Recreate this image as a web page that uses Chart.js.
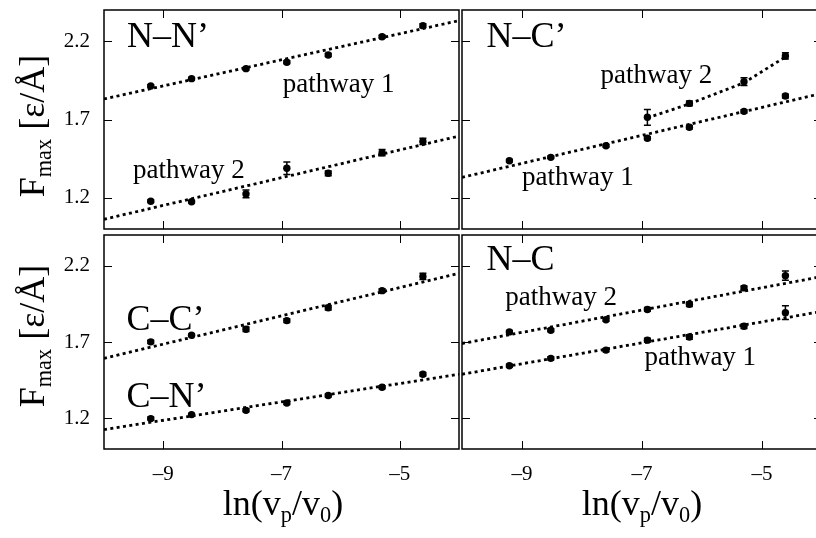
<!DOCTYPE html>
<html>
<head>
<meta charset="utf-8">
<script src="https://cdn.jsdelivr.net/npm/chart.js@4.4.0/dist/chart.umd.min.js"></script>
<style>
html, body { margin: 0; padding: 0; background: #fff; overflow: hidden; }
#wrap { position: relative; width: 816px; height: 538px; overflow: hidden;
        font-family: "Liberation Serif", "DejaVu Serif", serif; color: #000; }
#wrap canvas { position: absolute; left: 0; top: 0; }
.ytitle, .xtitle { position: absolute; width: 240px; height: 40px; line-height: 40px;
        font-size: 36px; text-align: center; white-space: nowrap; }
.ytitle { transform: rotate(-90deg); }
sub { font-size: 62%; line-height: 0; vertical-align: -0.3em; }
</style>
</head>
<body>
<div id="wrap">
  <canvas id="nnPanel" width="830" height="538"></canvas>
  <canvas id="ncPrimePanel" width="830" height="538"></canvas>
  <canvas id="ccPanel" width="830" height="538"></canvas>
  <canvas id="ncPanel" width="830" height="538"></canvas>
  <div class="ytitle" style="left:-88px; top:106px;">F<sub>max</sub> [ε/Å]</div>
  <div class="ytitle" style="left:-88px; top:316px;">F<sub>max</sub> [ε/Å]</div>
  <div class="xtitle" style="left:163px; top:483px;">ln(v<sub>p</sub>/v<sub>0</sub>)</div>
  <div class="xtitle" style="left:522px; top:483px;">ln(v<sub>p</sub>/v<sub>0</sub>)</div>
</div>
<script>
// Pulling speeds, ln(vp/v0)
var xVals = [-9.21, -8.52, -7.60, -6.91, -6.21, -5.30, -4.61];
var xValsShort = [-6.91, -6.21, -5.30, -4.61];
var fitX = [-10, -4];
var xTicks = [-9, -7, -5];
var yTicks = [1.2, 1.7, 2.2];

// N-N'
var nnPath1 = [1.914, 1.961, 2.025, 2.066, 2.112, 2.229, 2.300];
var nnPath1Err = [0.008, 0.008, 0.008, 0.010, 0.010, 0.010, 0.012];
var nnPath1Fit = [1.831, 2.332];
var nnPath2 = [1.177, 1.174, 1.224, 1.388, 1.356, 1.488, 1.560];
var nnPath2Err = [0.008, 0.008, 0.025, 0.040, 0.015, 0.020, 0.020];
var nnPath2Fit = [1.062, 1.594];

// N-C'
var ncpPath1 = [1.436, 1.458, 1.532, 1.580, 1.650, 1.752, 1.850];
var ncpPath1Err = [0.008, 0.008, 0.008, 0.010, 0.010, 0.010, 0.012];
var ncpPath1Fit = [1.330, 1.867];
var ncpPath2 = [1.714, 1.803, 1.942, 2.106];
var ncpPath2Err = [0.050, 0.015, 0.025, 0.020];
var ncpPath2Line = [1.710, 1.800, 1.935, 2.100];

// C-C' and C-N'
var ccPrime = [1.701, 1.744, 1.783, 1.840, 1.924, 2.036, 2.129];
var ccPrimeErr = [0.010, 0.008, 0.015, 0.012, 0.015, 0.012, 0.020];
var ccPrimeFit = [1.593, 2.149];
var cnPrime = [1.199, 1.225, 1.253, 1.301, 1.350, 1.404, 1.489];
var cnPrimeErr = [0.010, 0.008, 0.010, 0.010, 0.010, 0.010, 0.012];
var cnPrimeFit = [1.127, 1.489];

// N-C
var ncPath2 = [1.766, 1.777, 1.846, 1.913, 1.947, 2.054, 2.134];
var ncPath2Err = [0.010, 0.010, 0.010, 0.012, 0.015, 0.012, 0.030];
var ncPath2Fit = [1.690, 2.128];
var ncPath1 = [1.545, 1.593, 1.647, 1.712, 1.733, 1.803, 1.892];
var ncPath1Err = [0.010, 0.010, 0.010, 0.012, 0.015, 0.015, 0.045];
var ncPath1Fit = [1.489, 1.900];

var FONT = '"Liberation Serif", "DejaVu Serif", serif';
var W = 830, H = 538;

function toXY(xs, ys) {
    return xs.map(function (x, i) { return {x: x, y: ys[i]}; });
}

function pointSet(xs, ys, errs) {
    return {data: toXY(xs, ys), errors: errs, showLine: false,
            pointRadius: 3.7, pointBorderWidth: 0,
            pointBackgroundColor: '#000', borderColor: '#000'};
}

function fitSet(xs, ys) {
    return {data: toXY(xs, ys), showLine: true, pointRadius: 0,
            borderColor: '#000', borderWidth: 2.8, borderDash: [3, 3.4],
            borderCapStyle: 'butt', fill: false, tension: 0};
}

/**
 * Draws the box round the plot area with the small inward ticks on all four sides.
 */
var frameTicks = {
    id: 'frameTicks',
    afterDraw: function (chart) {
        var ctx = chart.ctx, a = chart.chartArea;
        var sx = chart.scales.x, sy = chart.scales.y, len = 8;
        ctx.save();
        ctx.strokeStyle = '#000';
        ctx.lineWidth = 1.5;
        ctx.strokeRect(a.left, a.top, a.right - a.left, a.bottom - a.top);
        ctx.lineWidth = 1;
        ctx.beginPath();
        xTicks.forEach(function (t) {
            var px = Math.round(sx.getPixelForValue(t)) + 0.5;
            ctx.moveTo(px, a.bottom); ctx.lineTo(px, a.bottom - len);
            ctx.moveTo(px, a.top); ctx.lineTo(px, a.top + len);
        });
        yTicks.forEach(function (t) {
            var py = Math.round(sy.getPixelForValue(t)) + 0.5;
            ctx.moveTo(a.left, py); ctx.lineTo(a.left + len, py);
            ctx.moveTo(a.right, py); ctx.lineTo(a.right - len, py);
        });
        ctx.stroke();
        ctx.restore();
    }
};

/**
 * Vertical error bars with caps, for datasets that carry an errors array.
 */
var errorBars = {
    id: 'errorBars',
    afterDatasetsDraw: function (chart) {
        var ctx = chart.ctx, sy = chart.scales.y;
        ctx.save();
        ctx.strokeStyle = '#000';
        ctx.lineWidth = 1.5;
        chart.data.datasets.forEach(function (ds, i) {
            if (!ds.errors) return;
            var meta = chart.getDatasetMeta(i);
            meta.data.forEach(function (pt, j) {
                var v = ds.data[j].y, e = ds.errors[j];
                var y1 = sy.getPixelForValue(v + e), y2 = sy.getPixelForValue(v - e);
                ctx.beginPath();
                ctx.moveTo(pt.x, y1); ctx.lineTo(pt.x, y2);
                ctx.moveTo(pt.x - 3.5, y1); ctx.lineTo(pt.x + 3.5, y1);
                ctx.moveTo(pt.x - 3.5, y2); ctx.lineTo(pt.x + 3.5, y2);
                ctx.stroke();
            });
        });
        ctx.restore();
    }
};

/**
 * Panel labels placed at data coordinates.
 */
var panelText = {
    id: 'panelText',
    afterDraw: function (chart, args, opts) {
        var ctx = chart.ctx, sx = chart.scales.x, sy = chart.scales.y;
        ctx.save();
        ctx.fillStyle = '#000';
        ctx.textAlign = 'left';
        ctx.textBaseline = 'alphabetic';
        (opts.items || []).forEach(function (it) {
            ctx.font = it.size + 'px ' + FONT;
            ctx.fillText(it.text, sx.getPixelForValue(it.x), sy.getPixelForValue(it.y));
        });
        ctx.restore();
    }
};

function noPadding(s) {
    s.paddingTop = 0; s.paddingBottom = 0; s.paddingLeft = 0; s.paddingRight = 0;
}

// box = [left, right, top, bottom] of the plot frame, in page pixels
function makePanel(id, box, showX, showY, datasets, labels) {
    var tickFont = {family: FONT, size: 21};
    var yWidth = showY ? box[0] : 0;
    var xHeight = showX ? H - box[3] : 0;
    return new Chart(document.getElementById(id), {
        type: 'scatter',
        data: {datasets: datasets},
        plugins: [errorBars, frameTicks, panelText],
        options: {
            responsive: false,
            animation: false,
            devicePixelRatio: 1,
            layout: {padding: {left: box[0] - yWidth, right: W - box[1],
                               top: box[2], bottom: H - box[3] - xHeight}},
            plugins: {legend: {display: false}, tooltip: {enabled: false},
                      panelText: {items: labels}},
            scales: {
                x: {type: 'linear', min: -10, max: -4,
                    afterBuildTicks: function (s) { s.ticks = xTicks.map(function (v) { return {value: v}; }); },
                    afterFit: function (s) { s.height = xHeight; noPadding(s); },
                    grid: {display: false, drawTicks: false}, border: {display: false},
                    ticks: {display: showX, padding: 13, color: '#000', font: tickFont,
                            autoSkip: false, maxRotation: 0,
                            callback: function (v) { return (v < 0 ? '\u2013' : '') + Math.abs(v); }}},
                y: {type: 'linear', min: 1.0, max: 2.4,
                    afterBuildTicks: function (s) { s.ticks = yTicks.map(function (v) { return {value: v}; }); },
                    afterFit: function (s) { s.width = yWidth; noPadding(s); },
                    grid: {display: false, drawTicks: false}, border: {display: false},
                    ticks: {display: showY, padding: 14, color: '#000', font: tickFont,
                            autoSkip: false,
                            callback: function (v) { return v.toFixed(1); }}}
            }
        }
    });
}

makePanel('nnPanel', [104, 459, 10, 229], false, true, [
    fitSet(fitX, nnPath1Fit), fitSet(fitX, nnPath2Fit),
    pointSet(xVals, nnPath1, nnPath1Err), pointSet(xVals, nnPath2, nnPath2Err)
], [
    {text: 'N\u2013N\u2019', x: -9.61, y: 2.163, size: 36},
    {text: 'pathway 1', x: -6.98, y: 1.878, size: 27},
    {text: 'pathway 2', x: -9.51, y: 1.326, size: 27}
]);

makePanel('ncPrimePanel', [462, 822, 10, 229], false, false, [
    fitSet(fitX, ncpPath1Fit), fitSet(xValsShort, ncpPath2Line),
    pointSet(xVals, ncpPath1, ncpPath1Err), pointSet(xValsShort, ncpPath2, ncpPath2Err)
], [
    {text: 'N\u2013C\u2019', x: -9.59, y: 2.165, size: 36},
    {text: 'pathway 2', x: -7.69, y: 1.931, size: 27},
    {text: 'pathway 1', x: -9.0, y: 1.281, size: 27}
]);

makePanel('ccPanel', [104, 459, 235, 449], true, true, [
    fitSet(fitX, ccPrimeFit), fitSet(fitX, cnPrimeFit),
    pointSet(xVals, ccPrime, ccPrimeErr), pointSet(xVals, cnPrime, cnPrimeErr)
], [
    {text: 'C\u2013C\u2019', x: -9.62, y: 1.777, size: 36},
    {text: 'C\u2013N\u2019', x: -9.62, y: 1.272, size: 36}
]);

makePanel('ncPanel', [462, 822, 235, 449], true, false, [
    fitSet(fitX, ncPath2Fit), fitSet(fitX, ncPath1Fit),
    pointSet(xVals, ncPath2, ncPath2Err), pointSet(xVals, ncPath1, ncPath1Err)
], [
    {text: 'N\u2013C', x: -9.59, y: 2.171, size: 36},
    {text: 'pathway 2', x: -9.28, y: 1.939, size: 27},
    {text: 'pathway 1', x: -6.96, y: 1.549, size: 27}
]);
</script>
</body>
</html>
